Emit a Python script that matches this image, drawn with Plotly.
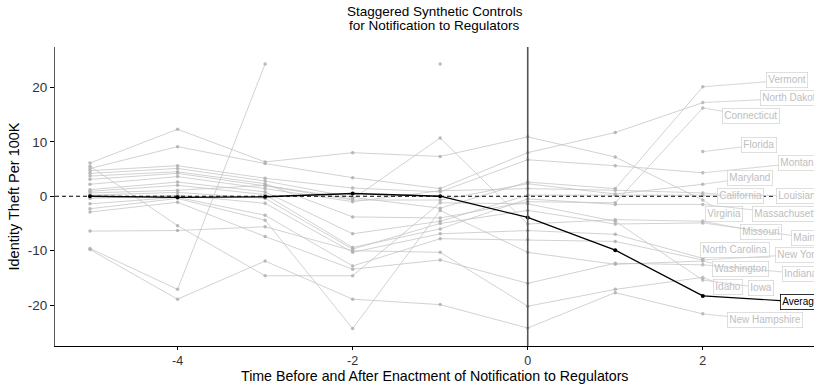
import plotly.graph_objects as go

# ---- data ----
times = [-5, -4, -3, -2, -1, 0, 1, 2]

states = ["Virginia", "North Dakota", "Montana", "Vermont", "Connecticut", "Maryland",
          "California", "Louisiana", "Massachusetts", "Missouri", "Maine", "North Carolina",
          "New York", "Washington", "Indiana", "Idaho", "Iowa", "New Hampshire", "Florida"]

virginia = [6.1, 12.3, 6.3, 8.0, 7.3, 10.9, 7.2, -0.7]
north_dakota = [5.1, 9.1, 6.0, 3.4, 1.4, 8.0, 11.7, 17.2]
montana = [4.7, 5.6, 3.3, 1.5, 0.8, 6.7, 5.6, 4.3]
vermont = [4.2, 5.1, 2.8, -0.2, -2.2, 2.6, 1.4, 20.1]
connecticut = [3.7, 4.5, 2.3, -3.8, -4.0, -1.0, -1.2, 16.2]
maryland = [3.1, 4.2, 1.9, -0.7, -0.7, 2.3, 0.4, 2.2]
california = [2.2, 3.6, 1.4, -1.0, 1.0, 1.4, 1.1, 0.6]
louisiana = [1.2, 2.6, 0.8, -6.9, -4.6, 0.2, 0.2, 0.2]
massachusetts = [0.9, 2.0, 0.3, -9.4, -6.0, -0.5, -1.5, -1.5]
missouri = [0.6, 1.1, 2.0, -0.5, 10.7, -5.1, -4.3, -4.6]
maine = [0.2, 0.7, -0.4, -9.7, -5.0, -2.6, -5.1, -4.9]
north_carolina = [-0.4, 0.2, -1.3, -10.3, -6.9, -6.3, -7.0, -11.4]
new_york = [-1.4, -0.2, -3.5, -12.8, -7.8, -8.0, -8.3, -11.7]
washington = [-2.3, -0.4, -4.4, -24.3, -2.6, -10.3, -12.5, -11.9]
indiana = [-2.9, -1.1, -7.4, -13.4, -11.7, -16.0, -12.3, -12.6]
idaho = [-6.4, -6.3, -5.6, -10.0, -10.3, -20.2, -17.1, -14.9]
iowa = [5.5, -5.4, -14.6, -14.6, -1.2, -1.4, -4.6, -15.4]
new_hampshire = [-9.8, -18.9, -11.9, -18.9, -19.9, -24.2, -17.7, -21.6]
florida = [-9.6, -17.1, 24.3, None, 24.3, None, None, 8.2]

average = [0.0, -0.2, -0.1, 0.5, 0.0, -3.9, -9.9, -18.3]

series = [virginia, north_dakota, montana, vermont, connecticut, maryland, california,
          louisiana, massachusetts, missouri, maine, north_carolina, new_york, washington,
          indiana, idaho, iowa, new_hampshire, florida]

x_ticks = [-4, -2, 0, 2]
x_tick_labels = ["-4", "-2", "0", "2"]
y_ticks = [-20, -10, 0, 10, 20]
y_tick_labels = ["-20", "-10", "0", "10", "20"]

title_lines = ["Staggered Synthetic Controls", "for Notification to Regulators"]
x_title = "Time Before and After Enactment of Notification to Regulators"
y_title = "Identity Theft Per 100K"

# label placement (layout, data coords of label centres)
label_pos = {
    "Vermont": (2.96, 21.3), "North Dakota": (3.02, 18.0), "Connecticut": (2.55, 14.8),
    "Florida": (2.64, 9.4), "Montana": (3.11, 6.1), "Maryland": (2.54, 3.4),
    "California": (2.43, 0.1), "Louisiana": (3.11, 0.1), "Virginia": (2.24, -3.2),
    "Massachusetts": (2.97, -3.2), "Missouri": (2.67, -6.6), "Maine": (3.19, -7.6),
    "North Carolina": (2.37, -9.9), "New York": (3.10, -10.7), "Washington": (2.43, -13.4),
    "Indiana": (3.12, -14.2), "Idaho": (2.29, -16.7), "Iowa": (2.66, -16.8),
    "New Hampshire": (2.71, -22.8), "Average": (3.12, -19.4),
}

FONT = "Liberation Sans, Arial, sans-serif"
GRAY_LINE = "rgba(195,195,195,0.75)"
GRAY_MARK = "rgba(175,175,175,0.85)"
W, H = 814, 384
ML, MR, MT, MB = 55, 0, 47, 38

fig = go.Figure()

for name, vals in zip(states, series):
    fig.add_trace(go.Scatter(
        x=times, y=vals, mode="lines+markers", name=name,
        line=dict(color=GRAY_LINE, width=1), connectgaps=False,
        marker=dict(color=GRAY_MARK, size=3.5), showlegend=False, hoverinfo="skip"))

fig.add_trace(go.Scatter(
    x=times, y=average, mode="lines+markers", name="Average",
    line=dict(color="black", width=1.3), marker=dict(color="black", size=4),
    showlegend=False))

# reference lines
fig.add_shape(type="line", xref="x", yref="paper", x0=0, x1=0, y0=0, y1=1,
              line=dict(color="#555555", width=1.6), layer="above")
fig.add_shape(type="line", xref="paper", yref="y", x0=0, x1=1, y0=0, y1=0,
              line=dict(color="black", width=1.1, dash="4px,3px"), layer="above")

# labels with leader lines
last_x = times[-1]
for name, vals in zip(states, series):
    lx, ly = label_pos[name]
    fig.add_annotation(
        x=last_x, y=vals[-1], ax=lx, ay=ly, axref="x", ayref="y", xref="x", yref="y",
        text=name, showarrow=True, arrowhead=0, arrowwidth=0.8,
        arrowcolor="rgba(200,200,200,0.9)", standoff=0,
        font=dict(family=FONT, size=10, color="rgba(190,190,190,1)"),
        bgcolor="white", bordercolor="rgba(215,215,215,1)", borderwidth=0.8, borderpad=1.5)

lx, ly = label_pos["Average"]
fig.add_annotation(
    x=last_x, y=average[-1], ax=lx, ay=ly, axref="x", ayref="y", xref="x", yref="y",
    text="Average", showarrow=True, arrowhead=0, arrowwidth=1.1, arrowcolor="black",
    standoff=0, font=dict(family=FONT, size=10, color="black"),
    bgcolor="white", bordercolor="black", borderwidth=0.8, borderpad=1.5)

plot_w = W - ML - MR
plot_h = H - MT - MB

# title, two lines placed individually (tight line spacing as in reference)
for i, line in enumerate(title_lines):
    py = 11 + 14 * i  # pixel centre from top
    fig.add_annotation(
        xref="paper", yref="paper", x=0.5, y=1 + (MT - py) / plot_h,
        xanchor="center", yanchor="middle", showarrow=False, text=line,
        font=dict(family=FONT, size=13.5, color="black"))

# x axis title
fig.add_annotation(
    xref="paper", yref="paper", x=0.5, y=-(375.5 - (H - MB)) / plot_h,
    xanchor="center", yanchor="middle", showarrow=False, text=x_title,
    font=dict(family=FONT, size=14.2, color="black"))

fig.update_layout(
    width=W, height=H, autosize=False,
    margin=dict(l=ML, r=MR, t=MT, b=MB),
    paper_bgcolor="white", plot_bgcolor="white",
    font=dict(family=FONT, color="black"),
    xaxis=dict(range=[-5.40, 3.27], tickvals=x_ticks, ticktext=x_tick_labels,
               showgrid=False, zeroline=False, showline=True, linecolor="black",
               linewidth=1.2, ticks="outside", ticklen=3, tickcolor="black",
               tickfont=dict(family=FONT, size=12.5, color="#333333")),
    yaxis=dict(range=[-27.5, 27.4], tickvals=y_ticks, ticktext=y_tick_labels,
               showgrid=False, zeroline=False, showline=True, linecolor="#555555",
               linewidth=1.2, ticks="outside", ticklen=4, tickcolor="black",
               tickfont=dict(family=FONT, size=13.5, color="#333333"),
               title=dict(text=y_title,
                          font=dict(family=FONT, size=14.5, color="black"), standoff=4)),
)

fig.write_html("out.html")
